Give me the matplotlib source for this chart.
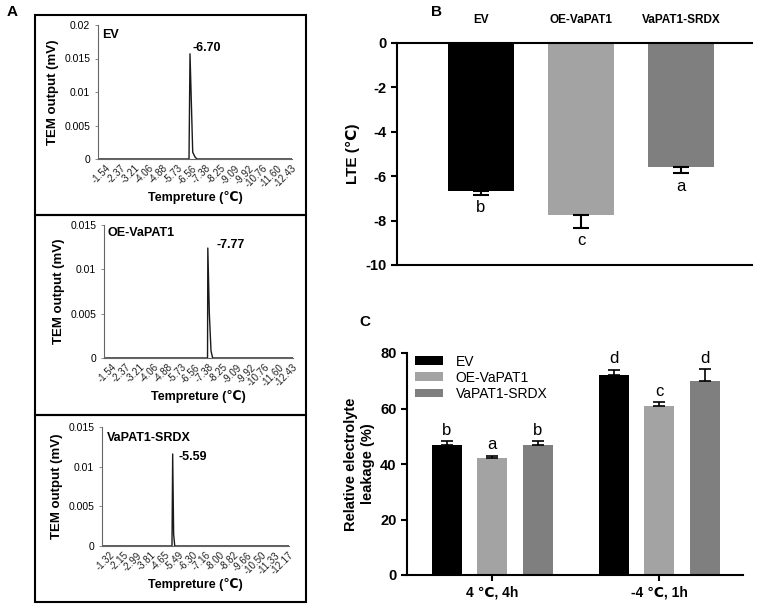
import matplotlib
matplotlib.use('Agg')
import matplotlib.pyplot as plt
import numpy as np
from matplotlib.patches import Rectangle

plt.rcParams['font.family'] = ['Liberation Sans', 'DejaVu Sans']
plt.rcParams['axes.unicode_minus'] = False

# ---------------- data ----------------
# panel A : TEM traces (x in tick-index units)
ev_labels = ['-1.54', '-2.37', '-3.21', '-4.06', '-4.88', '-5.73', '-6.56',
             '-7.38', '-8.25', '-9.09', '-9.92', '-10.76', '-11.60', '-12.43']
srdx_labels = ['-1.32', '-2.15', '-2.99', '-3.81', '-4.65', '-5.49', '-6.30',
               '-7.16', '-8.00', '-8.82', '-9.66', '-10.50', '-11.33', '-12.17']

ev_x = [-0.55, 5.83, 5.90, 6.09, 6.25, 6.39, 13.05]
ev_y = [0, 0, 0.0157, 0.001, 0.0003, 0, 0]
oe_x = [-0.55, 6.90, 6.92, 7.03, 7.15, 7.27, 13.05]
oe_y = [0, 0, 0.0124, 0.005, 0.0008, 0, 0]
srdx_x = [-0.55, 4.54, 4.59, 4.66, 4.74, 13.05]
srdx_y = [0, 0, 0.0116, 0.0015, 0, 0]

# panel B : LTE
lines_b = ['EV', 'OE-VaPAT1', 'VaPAT1-SRDX']
lte = [-6.68, -7.75, -5.58]
lte_err = [0.15, 0.57, 0.28]
lte_sig = ['b', 'c', 'a']

# panel C : electrolyte leakage
treat = ['4 \u2103, 4h', '-4 \u2103, 1h']
rel_ev = [47, 72]
rel_oe = [42, 61]
rel_srdx = [47, 70]
err_ev = [1.2, 2.0]
err_oe = [1.0, 1.2]
err_srdx = [1.2, 4.2]
sig_ev = ['b', 'd']
sig_oe = ['a', 'c']
sig_srdx = ['b', 'd']

c_ev = '#000000'
c_oe = '#a3a3a3'
c_srdx = '#7f7f7f'

W, H = 757, 608
fig = plt.figure(figsize=(W / 100, H / 100), dpi=100)


def pos(l, t, r, b):
    return [l / W, 1 - b / H, (r - l) / W, (b - t) / H]


# ---------------- panel A ----------------
for top, bot in [(15, 215), (215, 415), (415, 602)]:
    fig.patches.append(Rectangle((35 / W, 1 - bot / H), (306 - 35) / W, (bot - top) / H,
                                 transform=fig.transFigure, fill=False,
                                 edgecolor='black', linewidth=1.5))

panelsA = [
    (pos(98, 25, 292, 159), ev_x, ev_y, ev_labels, 0.02, 'EV', (-0.27, 0.0185), '-6.70', (6.04, 0.0166)),
    (pos(104, 225, 293, 358), oe_x, oe_y, ev_labels, 0.015, 'OE-VaPAT1', (-0.33, 0.0141), '-7.77', (7.58, 0.0127)),
    (pos(102, 427, 289, 546), srdx_x, srdx_y, srdx_labels, 0.015, 'VaPAT1-SRDX', (-0.19, 0.0136), '-5.59', (4.98, 0.0112)),
]
for p, x, y, labs, ymax, name, npos, peak, ppos in panelsA:
    ax = fig.add_axes(p)
    ax.plot(x, y, color='#1a1a1a', linewidth=1.0)
    ax.set_xlim(-0.55, 13.05)
    ax.set_ylim(0, ymax)
    yt = np.arange(0, ymax + 1e-9, 0.005)
    ax.set_yticks(yt)
    ax.set_yticklabels(['0' if v == 0 else ('%g' % v) for v in yt])
    ax.set_xticks(range(len(labs)))
    ax.set_xticklabels(labs, rotation=45, ha='right', va='top', rotation_mode='anchor')
    ax.tick_params(axis='x', labelsize=7, length=0, pad=3, labelcolor='#222222')
    ax.tick_params(axis='y', labelsize=7.5, length=2, width=0.6, color='#777777')
    for s in ['top', 'right']:
        ax.spines[s].set_visible(False)
    for s in ['left', 'bottom']:
        ax.spines[s].set_color('#666666')
        ax.spines[s].set_linewidth(0.8)
    ax.set_ylabel('TEM output (mV)', fontsize=9.5, fontweight='bold', labelpad=4)
    ax.set_xlabel('Tempreture (\u2103)', fontsize=9, fontweight='bold', labelpad=1)
    ax.text(npos[0], npos[1], name, fontsize=9, fontweight='bold', va='center', ha='left')
    ax.text(ppos[0], ppos[1], peak, fontsize=9, fontweight='bold', va='center', ha='left')

fig.text(12 / W, 1 - 12 / H, 'A', fontsize=11, fontweight='bold', ha='center', va='center')

# ---------------- panel B ----------------
axb = fig.add_axes(pos(397, 43, 752, 265))
xb = np.arange(len(lines_b))
axb.bar(xb, lte, width=0.66, color=[c_ev, c_oe, c_srdx])
axb.errorbar(xb, lte, yerr=[lte_err, [0] * 3], fmt='none', ecolor='black',
             elinewidth=1.5, capsize=6, capthick=1.5)
for i in range(len(xb)):
    axb.text(xb[i], lte[i] - lte_err[i] - 0.25, lte_sig[i], ha='center', va='top', fontsize=12)
axb.set_xlim(-0.84, 2.71)
axb.set_ylim(-10, 0)
axb.set_yticks([0, -2, -4, -6, -8, -10])
axb.xaxis.tick_top()
axb.set_xticks(xb)
axb.set_xticklabels(lines_b, fontsize=8.5, fontweight='bold')
axb.tick_params(axis='x', length=0, pad=12)
axb.tick_params(axis='y', labelsize=10.5, width=1.5, length=4)
for t in axb.get_yticklabels():
    t.set_fontweight('bold')
axb.spines['right'].set_visible(False)
for s in ['left', 'bottom', 'top']:
    axb.spines[s].set_linewidth(1.5)
axb.set_ylabel('LTE (\u2103)', fontsize=11, fontweight='bold', labelpad=4)
fig.text(437 / W, 1 - 12 / H, 'B', fontsize=11, fontweight='bold', ha='center', va='center')

# ---------------- panel C ----------------
axc = fig.add_axes(pos(407, 353, 743, 575))
xc = np.arange(len(treat))
off = 0.273
bw = 0.18
series = [(rel_ev, err_ev, sig_ev, c_ev, 'EV', -off),
          (rel_oe, err_oe, sig_oe, c_oe, 'OE-VaPAT1', 0),
          (rel_srdx, err_srdx, sig_srdx, c_srdx, 'VaPAT1-SRDX', off)]
for vals, errs, sigs, col, lab, o in series:
    axc.bar(xc + o, vals, width=bw, color=col, label=lab)
    axc.errorbar(xc + o, vals, yerr=[[0] * len(vals), errs], fmt='none', ecolor='black',
                 elinewidth=1.2, capsize=4.3, capthick=1.2)
    for i in range(len(vals)):
        axc.text(xc[i] + o, vals[i] + errs[i] + 1.2, sigs[i], ha='center', va='bottom', fontsize=12)
axc.set_xlim(-0.51, 1.50)
axc.set_ylim(0, 80)
axc.set_yticks([0, 20, 40, 60, 80])
axc.set_xticks(xc)
axc.set_xticklabels(treat, fontsize=10, fontweight='bold')
axc.tick_params(axis='x', width=1.5, length=4)
axc.tick_params(axis='y', labelsize=10.5, width=1.5, length=4)
for t in axc.get_yticklabels():
    t.set_fontweight('bold')
for s in ['top', 'right']:
    axc.spines[s].set_visible(False)
for s in ['left', 'bottom']:
    axc.spines[s].set_linewidth(1.5)
axc.set_ylabel('Relative electrolyte\nleakage (%)', fontsize=10.5, fontweight='bold', labelpad=4)
axc.legend(loc='upper left', bbox_to_anchor=(0.0, 1.03), frameon=False, fontsize=10,
           handlelength=2.0, handleheight=0.6, labelspacing=0.15, handletextpad=0.9,
           borderaxespad=0.2)
fig.text(365 / W, 1 - 322 / H, 'C', fontsize=11, fontweight='bold', ha='center', va='center')

fig.savefig('out.png', dpi=100)
